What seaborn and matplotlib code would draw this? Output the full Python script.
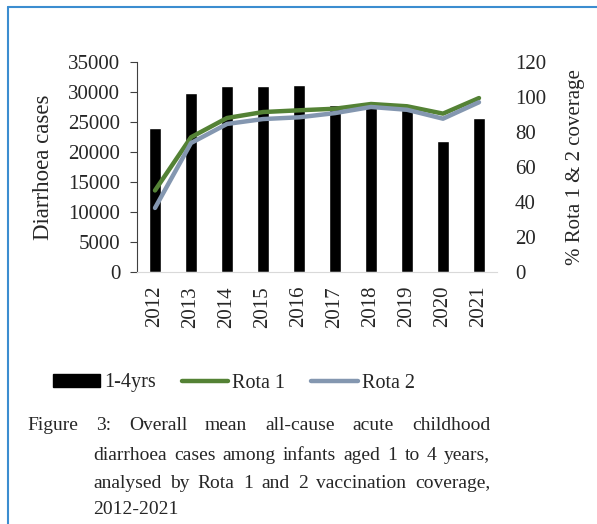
import numpy as np
import pandas as pd
import matplotlib
matplotlib.use("Agg")
import matplotlib.pyplot as plt
import seaborn as sns
from matplotlib.patches import Patch
from matplotlib.lines import Line2D

# Data
years = ["2012", "2013", "2014", "2015", "2016", "2017", "2018", "2019", "2020", "2021"]
cases_1_4yrs = [24000, 29800, 31000, 31000, 31100, 27900, 27600, 27000, 21900, 25600]
rota1 = [46.6, 77.0, 88.0, 91.4, 92.4, 93.3, 96.0, 94.7, 90.5, 99.4]
rota2 = [36.6, 73.7, 84.6, 87.4, 88.4, 90.8, 94.3, 92.7, 87.6, 97.0]

caption_lines = [
    "Figure 3: Overall mean all-cause acute childhood",
    "diarrhoea cases among infants aged 1 to 4 years,",
    "analysed by Rota 1 and 2 vaccination coverage,",
    "2012-2021",
]

GREEN = "#548235"
GREY = "#8497b0"
FONT_SIZE = 15
CAPTION_SIZE = 14

sns.set_style("white")
plt.rcParams["font.family"] = ["Liberation Serif", "DejaVu Serif"]
plt.rcParams["font.size"] = FONT_SIZE

df = pd.DataFrame({"Year": years, "Cases": cases_1_4yrs, "pos": np.arange(len(years)),
                   "Rota 1": rota1, "Rota 2": rota2})

W, H = 597, 524
fig = plt.figure(figsize=(W / 100, H / 100), dpi=100)
ax = fig.add_axes([137 / W, 1 - 272 / H, 360 / W, 210 / H])

sns.barplot(data=df, x="Year", y="Cases", color="black", width=0.31,
            saturation=1, ax=ax)
ax.set_ylim(0, 35000)
ax.set_yticks(np.arange(0, 35001, 5000))
ax.set_xlim(-0.5, 9.5)
ax.set_xlabel("")
ax.set_ylabel("Diarrhoea cases", labelpad=10, fontsize=16.5)
ax.tick_params(axis="x", length=0, pad=10, labelrotation=90)
ax.tick_params(axis="y", length=5, direction="out", color="#404040", pad=7, left=True)
for s in ["top", "right"]:
    ax.spines[s].set_visible(False)
ax.spines["left"].set_color("#404040")
ax.spines["bottom"].set_color("#d9d9d9")

ax2 = ax.twinx()
sns.lineplot(data=df, x="pos", y="Rota 1", color=GREEN, lw=3.2, ax=ax2)
sns.lineplot(data=df, x="pos", y="Rota 2", color=GREY, lw=3.2, ax=ax2)
ax2.set_ylim(0, 120)
ax2.set_yticks(np.arange(0, 121, 20))
ax2.set_xlim(-0.5, 9.5)
ax2.set_xlabel("")
ax2.set_ylabel("% Rota 1 & 2 coverage", labelpad=14)
ax2.tick_params(axis="y", length=0, pad=13)
for s in ["top", "right", "left", "bottom"]:
    ax2.spines[s].set_visible(False)

# Legend
handles = [Patch(facecolor="black", edgecolor="black"),
           Line2D([], [], color=GREEN, lw=3.2),
           Line2D([], [], color=GREY, lw=3.2)]
fig.legend(handles, ["1-4yrs", "Rota 1", "Rota 2"], ncol=3, frameon=False,
           loc="center", bbox_to_anchor=(234 / W, 1 - 383 / H),
           fontsize=14.5, handlelength=2.3, handleheight=0.6, handletextpad=0.2,
           columnspacing=1.3)

# Caption, justified
fig.canvas.draw()
renderer = fig.canvas.get_renderer()


def justify(line, x0, x1, y, justified=True):
    words = line.split(" ")
    texts = [fig.text(0, 1 - y / H, w, va="center", ha="left", fontsize=CAPTION_SIZE)
             for w in words]
    widths = [t.get_window_extent(renderer).width for t in texts]
    if justified and len(words) > 1:
        gap = (x1 - x0 - sum(widths)) / (len(words) - 1)
    else:
        gap = renderer.points_to_pixels(CAPTION_SIZE) * 0.25
    x = x0
    for t, w in zip(texts, widths):
        t.set_x(x / W)
        x += w + gap


justify(caption_lines[0], 27, 490, 426)
justify(caption_lines[1], 93, 490, 455)
justify(caption_lines[2], 93, 490, 483)
justify(caption_lines[3], 93, 490, 510, justified=False)

# Frame
fig.add_artist(Line2D([7.5 / W, 7.5 / W], [0, 1 - 7 / H], color="#3c8dd0", lw=1.5,
                      transform=fig.transFigure))
fig.add_artist(Line2D([7.5 / W, 1], [1 - 7 / H, 1 - 7 / H], color="#3c8dd0", lw=1.5,
                      transform=fig.transFigure))

fig.savefig("out.png", dpi=100)
